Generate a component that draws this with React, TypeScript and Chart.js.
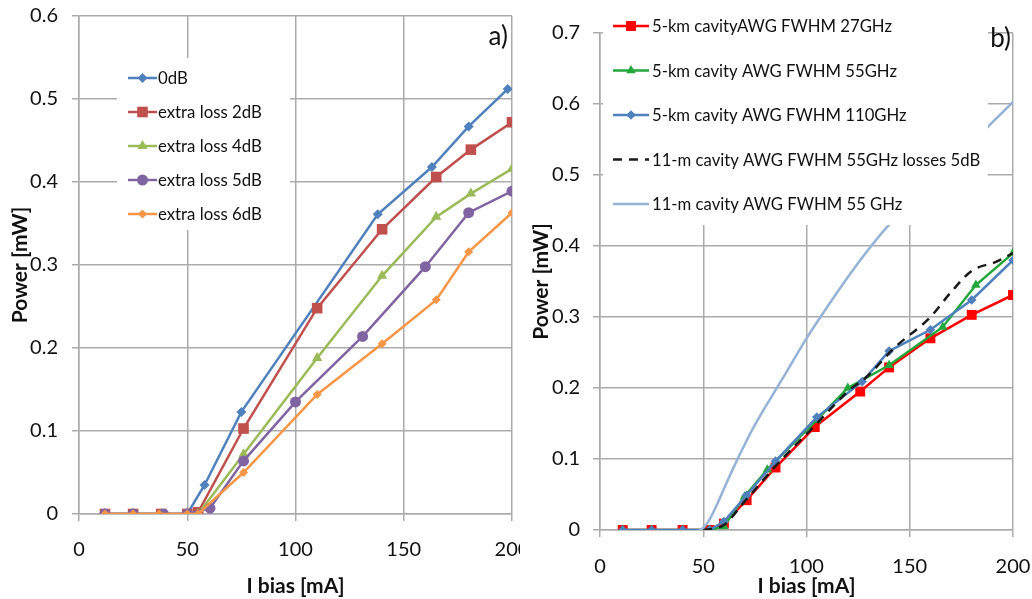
import React, { useEffect, useRef } from 'react';
import { Chart, registerables } from 'chart.js';

Chart.register(...registerables);

const FONT = 'Lato, "Open Sans", sans-serif';
const GRID = '#ababab';
const TEXT = '#111111';

// ---------- Panel a) ----------
const aNames = ['0dB', 'extra loss 2dB', 'extra loss 4dB', 'extra loss 5dB', 'extra loss 6dB'];
const aColors = ['#4F81BD', '#C0504D', '#9BBB59', '#8064A2', '#F79646'];
const aStyles = ['rectRot', 'rect', 'triangle', 'circle', 'rectRot'];
const aRadius = [5, 7.5, 6, 5.5, 4.5];

const a0_x = [12, 25, 38, 50, 58, 75, 138, 163, 180, 198];
const a0_y = [0, 0, 0, 0, 0.035, 0.123, 0.361, 0.418, 0.467, 0.512];
const a2_x = [12, 25, 38, 50, 55, 76, 110, 140, 165, 181, 200];
const a2_y = [0, 0, 0, 0, 0.002, 0.103, 0.248, 0.343, 0.406, 0.439, 0.472];
const a4_x = [12, 25, 38, 50, 55, 76, 110, 140, 165, 181, 200];
const a4_y = [0, 0, 0, 0, 0, 0.072, 0.188, 0.287, 0.358, 0.386, 0.416];
const a5_x = [12, 25, 39, 50, 60.5, 76, 100, 131, 160, 180, 200];
const a5_y = [0, 0, 0, 0, 0.007, 0.064, 0.135, 0.214, 0.298, 0.363, 0.389];
const a6_x = [12, 25, 37, 50, 55, 76, 110, 140, 165, 180, 200];
const a6_y = [0, 0, 0, 0, 0, 0.05, 0.144, 0.205, 0.258, 0.316, 0.363];
const aXs = [a0_x, a2_x, a4_x, a5_x, a6_x];
const aYs = [a0_y, a2_y, a4_y, a5_y, a6_y];

// ---------- Panel b) ----------
const bNames = [
  '5-km cavityAWG FWHM 27GHz',
  '5-km cavity AWG FWHM 55GHz',
  '5-km cavity AWG FWHM 110GHz',
  '11-m cavity AWG FWHM 55GHz losses 5dB',
  '11-m cavity AWG FWHM 55 GHz',
];
const bColors = ['#FF0000', '#22A83A', '#4F81BD', '#1a1a1a', '#95B3D7'];
const bStyles = ['rect', 'triangle', 'rectRot', '', ''];
const bRadius = [7, 5.5, 4.8, 0, 0];

const b27_x = [11, 25, 40, 53, 60, 71, 85, 104, 126, 140, 160, 180, 200];
const b27_y = [0, 0, 0, 0, 0.009, 0.042, 0.088, 0.145, 0.195, 0.229, 0.27, 0.303, 0.331];
const b55_x = [11, 25, 40, 53, 60, 70, 81, 105, 120, 140, 166, 182, 200];
const b55_y = [0, 0, 0, 0, 0.005, 0.047, 0.085, 0.155, 0.2, 0.232, 0.286, 0.345, 0.39];
const b110_x = [11, 25, 40, 53, 60, 71, 85, 105, 127, 140, 160, 180, 200];
const b110_y = [0, 0, 0, 0, 0.012, 0.049, 0.097, 0.159, 0.209, 0.252, 0.282, 0.324, 0.38];
const bLoss_x = [50, 55, 60, 70, 85, 105, 120, 130, 142, 160, 170, 180, 192, 200];
const bLoss_y = [0, 0.002, 0.007, 0.04, 0.09, 0.15, 0.195, 0.218, 0.255, 0.3, 0.335, 0.365, 0.378, 0.39];
const b11_x = [48, 50, 52, 54, 57, 60, 65, 70, 75, 80, 85, 90, 100, 110, 120, 130, 140, 150, 160, 170, 180, 190, 200];
const b11_y = [0, 0.003, 0.01, 0.02, 0.038, 0.058, 0.09, 0.12, 0.148, 0.173, 0.197, 0.221, 0.27, 0.314, 0.356, 0.395, 0.43, 0.46, 0.49, 0.518, 0.545, 0.574, 0.603];
const bXs = [b27_x, b55_x, b110_x, bLoss_x, b11_x];
const bYs = [b27_y, b55_y, b110_y, bLoss_y, b11_y];
const bDash = [[], [], [], [9, 7], []];

function drawMarker(ctx: CanvasRenderingContext2D, style: string, x: number, y: number, r: number, color: string) {
  if (!style || r <= 0) return;
  ctx.save();
  ctx.setLineDash([]);
  ctx.fillStyle = color;
  ctx.beginPath();
  if (style === 'rect') {
    const s = r * Math.SQRT1_2;
    ctx.rect(x - s, y - s, 2 * s, 2 * s);
  } else if (style === 'rectRot') {
    ctx.moveTo(x, y - r);
    ctx.lineTo(x + r, y);
    ctx.lineTo(x, y + r);
    ctx.lineTo(x - r, y);
    ctx.closePath();
  } else if (style === 'triangle') {
    let rad = 0;
    ctx.moveTo(x + Math.sin(rad) * r, y - Math.cos(rad) * r);
    rad += (2 * Math.PI) / 3;
    ctx.lineTo(x + Math.sin(rad) * r, y - Math.cos(rad) * r);
    rad += (2 * Math.PI) / 3;
    ctx.lineTo(x + Math.sin(rad) * r, y - Math.cos(rad) * r);
    ctx.closePath();
  } else if (style === 'circle') {
    ctx.arc(x, y, r, 0, Math.PI * 2);
  }
  ctx.fill();
  ctx.restore();
}

type LegendCfg = {
  box: { x: number; y: number; w: number; h: number };
  x0: number; x1: number; textX: number; y0: number; dy: number;
  fontSize: number;
  tag: string; tagX: number; tagY: number; tagSize: number;
};

function makeLegendPlugin(cfg: LegendCfg, styles: string[], radii: number[]) {
  return {
    id: 'insetLegend',
    afterDatasetsDraw(chart: any) {
      const ctx: CanvasRenderingContext2D = chart.ctx;
      ctx.save();
      ctx.fillStyle = '#ffffff';
      ctx.fillRect(cfg.box.x, cfg.box.y, cfg.box.w, cfg.box.h);
      chart.data.datasets.forEach((ds: any, i: number) => {
        const y = cfg.y0 + i * cfg.dy;
        ctx.strokeStyle = ds.borderColor;
        ctx.lineWidth = ds.borderWidth;
        ctx.setLineDash(ds.borderDash || []);
        ctx.beginPath();
        ctx.moveTo(cfg.x0, y);
        ctx.lineTo(cfg.x1, y);
        ctx.stroke();
        drawMarker(ctx, styles[i], (cfg.x0 + cfg.x1) / 2, y, radii[i], ds.borderColor);
        ctx.setLineDash([]);
        ctx.fillStyle = TEXT;
        ctx.font = `${cfg.fontSize}px ${FONT}`;
        ctx.textAlign = 'left';
        ctx.textBaseline = 'middle';
        ctx.fillText(ds.label, cfg.textX, y + 1);
      });
      ctx.fillStyle = TEXT;
      ctx.font = `${cfg.tagSize}px ${FONT}`;
      ctx.textAlign = 'right';
      ctx.textBaseline = 'middle';
      ctx.fillText(cfg.tag, cfg.tagX, cfg.tagY);
      ctx.restore();
    },
  };
}

function buildConfig(opts: {
  names: string[]; colors: string[]; styles: string[]; radii: number[];
  xs: number[][]; ys: number[][]; dashes?: number[][]; smooth?: boolean[];
  lineWidth: number; yMax: number;
  padRight: number; padTop: number; yWidth: number; xHeight: number;
  yTickPad: number; xTickPad: number; yTitlePad: number;
  legend: LegendCfg;
}) {
  const n = opts.names.length;
  const datasets = opts.names.map((name, i) => ({
    label: name,
    data: opts.xs[i].map((x, j) => ({ x, y: opts.ys[i][j] })),
    borderColor: opts.colors[i],
    backgroundColor: opts.colors[i],
    borderWidth: opts.lineWidth,
    borderDash: opts.dashes ? opts.dashes[i] : [],
    pointStyle: opts.styles[i] || 'circle',
    pointRadius: opts.radii[i],
    pointBackgroundColor: opts.colors[i],
    pointBorderWidth: 0,
    pointHoverRadius: opts.radii[i],
    cubicInterpolationMode: opts.smooth && opts.smooth[i] ? 'monotone' : 'default',
    tension: 0,
    fill: false,
    order: n - i,
  }));
  const tickFont = { family: FONT, size: 20 };
  const titleFont = { family: FONT, size: 21, weight: 'bold' as const };
  return {
    type: 'line' as const,
    data: { datasets },
    options: {
      responsive: false,
      animation: false as const,
      parsing: true,
      layout: { padding: { left: 0, top: opts.padTop, right: opts.padRight, bottom: 0 } },
      plugins: { legend: { display: false }, tooltip: { enabled: false } },
      scales: {
        x: {
          type: 'linear' as const,
          min: 0,
          max: 200,
          ticks: { stepSize: 50, padding: opts.xTickPad, color: TEXT, font: tickFont, maxRotation: 0 },
          grid: { color: GRID, lineWidth: 1.5, tickLength: 7 },
          border: { color: GRID, width: 1.5 },
          title: { display: true, text: 'I bias [mA]', color: TEXT, font: titleFont, padding: { top: 0, bottom: 0 } },
          afterFit(s: any) {
            s.height = opts.xHeight;
            s.paddingLeft = 0;
            s.paddingRight = 0;
          },
        },
        y: {
          type: 'linear' as const,
          min: 0,
          max: opts.yMax,
          ticks: {
            stepSize: 0.1,
            padding: opts.yTickPad,
            color: TEXT,
            font: tickFont,
            callback: (v: any) => String(Math.round(Number(v) * 10) / 10),
          },
          grid: { color: GRID, lineWidth: 1.5, tickLength: 7 },
          border: { color: GRID, width: 1.5 },
          title: { display: true, text: 'Power [mW]', color: TEXT, font: titleFont, padding: { top: opts.yTitlePad, bottom: 0 } },
          afterFit(s: any) {
            s.width = opts.yWidth;
            s.paddingTop = 0;
            s.paddingBottom = 0;
          },
        },
      },
    },
    plugins: [makeLegendPlugin(opts.legend, opts.styles, opts.radii)],
  };
}

function ChartCanvas({ config, width, height, left }: { config: () => any; width: number; height: number; left: number }) {
  const ref = useRef<HTMLCanvasElement | null>(null);
  useEffect(() => {
    if (!ref.current) return;
    const chart = new Chart(ref.current, config());
    return () => chart.destroy();
  }, []);
  return (
    <canvas
      ref={ref}
      width={width}
      height={height}
      style={{ position: 'absolute', left, top: 0, width, height }}
    />
  );
}

const leftConfig = () =>
  buildConfig({
    names: aNames, colors: aColors, styles: aStyles, radii: aRadius,
    xs: aXs, ys: aYs, lineWidth: 2.5, yMax: 0.6,
    padRight: 8, padTop: 16, yWidth: 79, xHeight: 85,
    yTickPad: 14, xTickPad: 17, yTitlePad: 8,
    legend: {
      box: { x: 117, y: 58, w: 173, h: 172 },
      x0: 128, x1: 157, textX: 158, y0: 78, dy: 34, fontSize: 16.8,
      tag: 'a)', tagX: 508, tagY: 37, tagSize: 26,
    },
  });

const rightConfig = () =>
  buildConfig({
    names: bNames, colors: bColors, styles: bStyles, radii: bRadius,
    xs: bXs, ys: bYs, dashes: bDash, smooth: [false, false, false, true, true],
    lineWidth: 2.5, yMax: 0.7,
    padRight: 19, padTop: 33, yWidth: 80, xHeight: 69,
    yTickPad: 13, xTickPad: 18, yTitlePad: 9,
    legend: {
      box: { x: 83, y: 0, w: 385, h: 225 },
      x0: 93, x1: 129, textX: 132, y0: 26, dy: 44.5, fontSize: 16.7,
      tag: 'b)', tagX: 491, tagY: 39, tagSize: 26,
    },
  });

export default function App() {
  return (
    <div style={{ position: 'fixed', left: 0, top: 0, width: 1032, height: 599, background: '#ffffff', overflow: 'hidden' }}>
      <ChartCanvas config={leftConfig} width={520} height={599} left={0} />
      <ChartCanvas config={rightConfig} width={512} height={599} left={520} />
    </div>
  );
}
